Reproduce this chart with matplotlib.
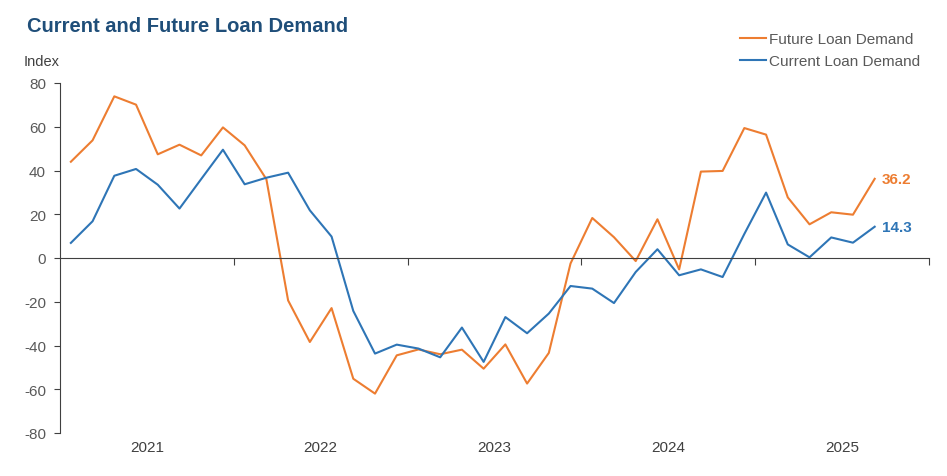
import numpy as np
import matplotlib
matplotlib.use("Agg")
import matplotlib.pyplot as plt
from matplotlib.transforms import blended_transform_factory

plt.rcParams['font.family'] = ['Liberation Sans', 'DejaVu Sans']
plt.rcParams['axes.unicode_minus'] = False

# Survey is run eight times a year, starting in 2021
years = [2021, 2022, 2023, 2024, 2025]
per_year = 8

future = [44, 53.8, 73.9, 70.1, 47.4, 51.8, 46.9, 59.7,
          51.5, 36, -19.4, -38.4, -22.9, -55.2, -62.0, -44.5,
          -41.8, -44.0, -41.9, -50.6, -39.5, -57.4, -43.4, -2.5,
          18.3, 9.5, -1.4, 17.7, -5.2, 39.5, 39.8, 59.4,
          56.4, 27.7, 15.4, 20.9, 19.8, 36.2]
current = [6.9, 16.8, 37.6, 40.7, 33.5, 22.6, 36.1, 49.5,
           33.7, 36.7, 39.0, 21.8, 9.8, -24.2, -43.7, -39.6,
           -41.4, -45.4, -31.8, -47.5, -27.0, -34.4, -25.4, -12.8,
           -14.0, -20.6, -6.4, 4.0, -7.9, -5.2, -8.7, 11.0,
           29.9, 6.2, 0.3, 9.4, 7.0, 14.3]

orange = '#ED7D31'
blue = '#2E75B6'
gray = '#595959'

x = years[0] + (np.arange(len(future)) + 0.5) / per_year

fig = plt.figure(figsize=(9.47, 4.77), dpi=100)
ax = fig.add_axes([60 / 947, 1 - 434 / 477, (929 - 60) / 947, (434 - 84) / 477])

ax.plot(x, future, color=orange, lw=1.5, label='Future Loan Demand')
ax.plot(x, current, color=blue, lw=1.5, label='Current Loan Demand')

ax.set_xlim(years[0], years[-1] + 1)
ax.set_ylim(-80, 80)
ax.set_yticks(range(-80, 81, 20))

for s in ['top', 'right']:
    ax.spines[s].set_visible(False)
ax.spines['bottom'].set_position(('data', 0))
ax.spines['left'].set_color('#404040')
ax.spines['bottom'].set_color('#404040')
ax.set_xticks([y + 1 for y in years])
ax.set_xticklabels([])
ax.tick_params(axis='x', direction='out', length=5, color='#404040')
ax.tick_params(axis='y', direction='out', length=4, color='#404040',
               labelsize=11, labelcolor=gray, pad=6)

trans = blended_transform_factory(ax.transData, ax.transAxes)
for y in years:
    ax.text(y + 0.5, -0.04, str(y), transform=trans, ha='center', va='center',
            fontsize=11, color='#404040')

ax.text(x[-1] + 0.04, future[-1], f'{future[-1]}', color=orange, fontsize=11,
        fontweight='bold', va='center', ha='left')
ax.text(x[-1] + 0.04, current[-1], f'{current[-1]}', color=blue, fontsize=11,
        fontweight='bold', va='center', ha='left')

fig.text(27 / 947, 1 - 27 / 477, 'Current and Future Loan Demand', fontsize=14.5,
         fontweight='bold', color='#1F4E79', va='center', ha='left')
fig.text(24 / 947, 1 - 62 / 477, 'Index', fontsize=10.5, color='#404040',
         va='center', ha='left')

leg = ax.legend(loc='upper left', bbox_to_anchor=(740 / 947, 1 - 33 / 477),
                bbox_transform=fig.transFigure, frameon=False, fontsize=11,
                handlelength=1.7, handletextpad=0.2, labelspacing=0.55,
                borderpad=0, borderaxespad=0)
for t in leg.get_texts():
    t.set_color(gray)

fig.savefig('out.png', dpi=100)
